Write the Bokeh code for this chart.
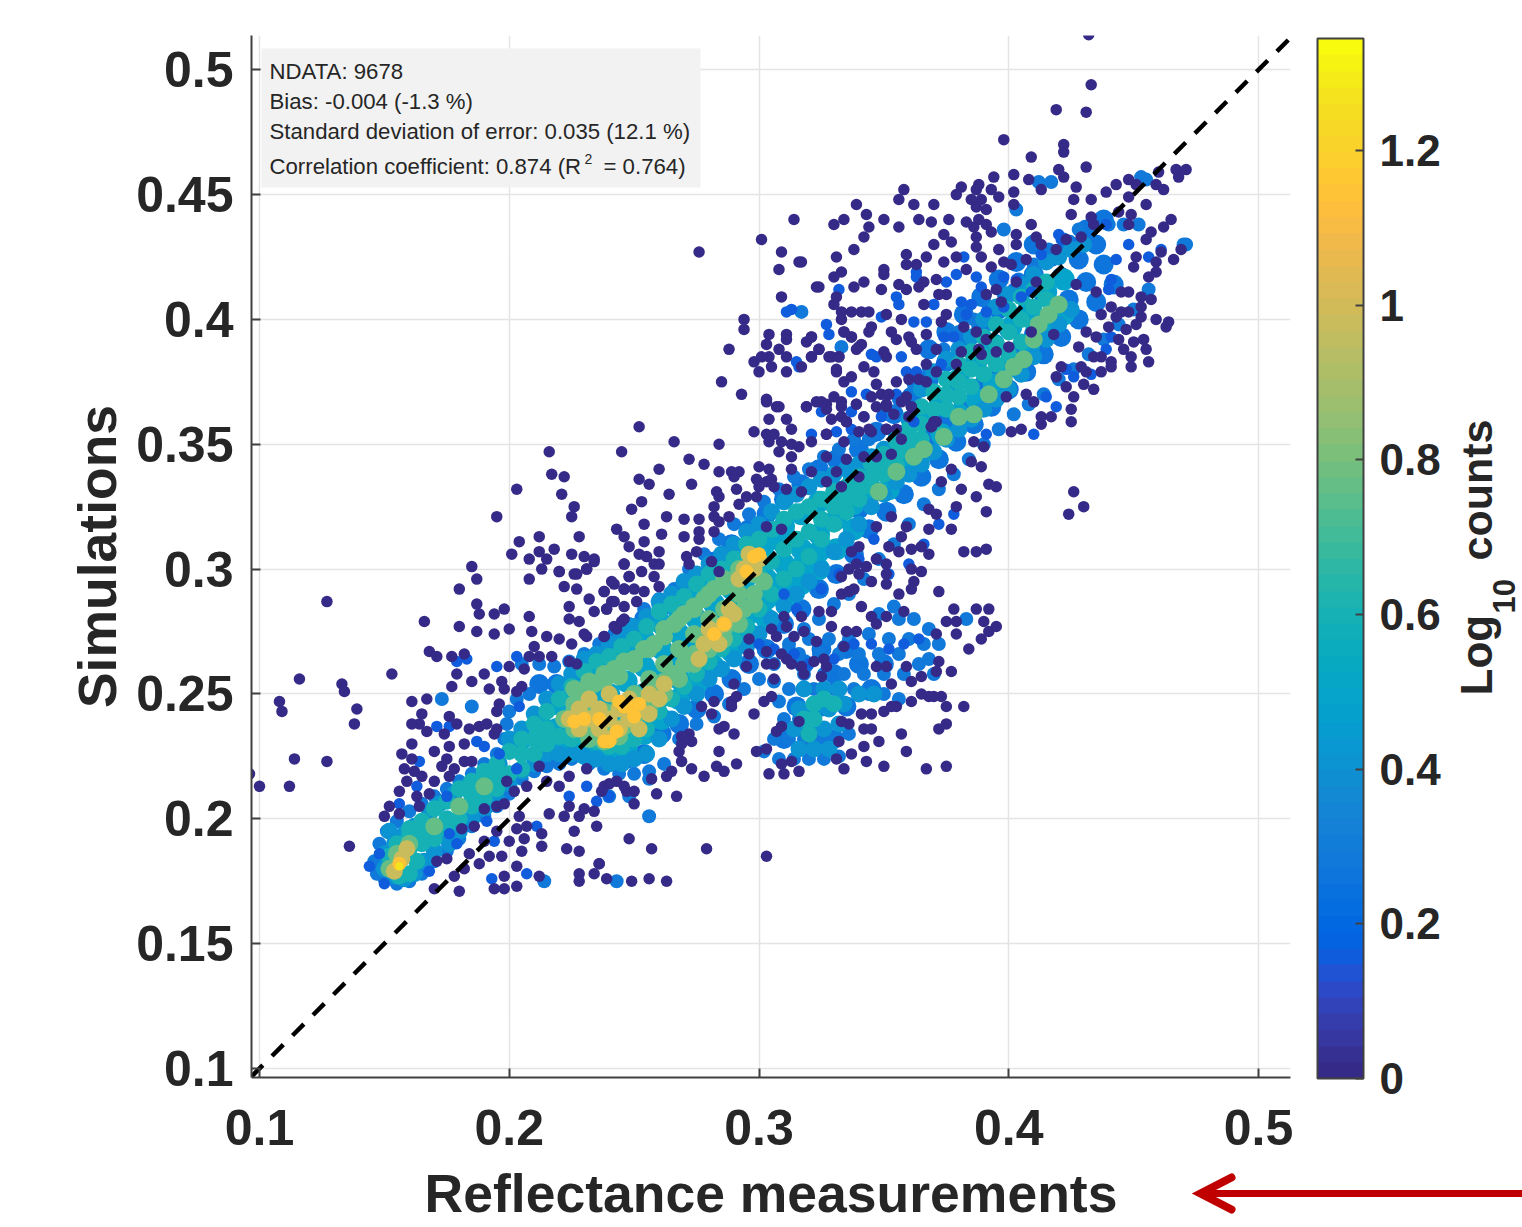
import numpy as np
from bokeh.embed import file_html
from bokeh.resources import INLINE
from bokeh.layouts import column
from bokeh.plotting import figure
from bokeh.core.properties import value
from bokeh.models import ColumnDataSource, LinearColorMapper, ColorBar, FixedTicker, Label, BoxAnnotation

# all pairs: reflectance*1000, simulation*1000
counts_0 = [127,287,96,218,100,213,112,213,114,224,127,223,108,247,109,243,116,256,133,254,134,251,139,244,138,238,153,258,136,189,
166,279,180,292,180,277,185,301,187,296,187,286,188,282,194,282,198,284,187,275,194,274,200,276,208,281,208,296,213,300,220,299,226,298,231,300,222,293,227,292,232,288,224,285,224,280,228,279,234,283,239,284,209,275,215,273,220,272,225,270,230,274,210,269,
168,267,171,265,177,265,182,266,179,258,177,253,185,255,190,258,192,252,197,255,198,252,161,247,167,248,165,242,161,238,164,238,167,235,176,241,179,238,174,234,184,236,188,237,191,238,195,236,194,234,161,230,157,226,161,224,170,227,176,229,182,230,173,221,175,224,182,223,158,220,162,219,159,215,165,217,170,215,176,217,178,220,185,223,156,211,163,209,168,210,164,205,152,205,150,201,156,202,
216,202,222,201,228,201,235,197,226,195,248,192,223,188,228,187,236,182,228,178,234,178,228,175,239,176,249,175,213,189,205,187,197,185,203,181,212,177,198,177,203,173,194,172,198,172,180,171,170,172,175,184,171,183,178,177,182,180,188,182,192,185,184,186,190,191,186,197,181,196,190,204,195,205,198,206,204,201,195,195,203,196,207,197,213,194,200,191,206,192,207,213,212,221,215,215,220,213,224,217,231,220,238,213,243,215,247,211,250,206,224,205,230,204,234,203,199,215,202,211,
195,243,196,246,205,253,203,251,200,261,206,260,208,265,212,265,217,265,224,263,227,262,231,273,238,273,243,276,246,280,248,297,246,302,234,303,242,294,246,292,238,291,241,287,
252,357,245,347,266,351,284,350,272,344,278,342,260,340,284,339,289,339,292,339,290,337,252,336,256,334,273,334,264,330,283,331,284,329,253,327,249,324,282,325,282,321,263,321,270,320,276,320,254,318,243,316,246,313,261,314,270,313,276,315,276,312,282,315,254,311,248,309,260,307,252,306,255,305,246,302,258,302,260,302,253,299,248,297,258,297,241,295,246,292,250,292,254,291,260,293,238,291,242,287,251,287,246,285,239,284,245,279,242,277,238,273,
271,305,275,307,272,302,281,303,284,299,298,355,303,354,306,354,304,351,309,351,313,356,308,347,313,350,316,349,321,351,304,360,311,360,303,367,307,365,319,365,327,366,339,366,333,367,329,360,335,359,342,361,351,365,361,365,354,362,360,361,369,357,370,359,340,355,345,355,351,356,357,352,327,354,334,351,327,345,335,344,342,345,347,345,353,346,313,345,300,341,304,340,313,340,321,339,331,339,340,337,299,336,303,335,305,336,300,333,306,333,311,332,327,335,333,333,291,332,295,329,299,329,292,326,317,331,
288,321,284,319,303,317,309,316,347,317,353,321,387,329,391,323,379,325,390,349,386,351,381,332,392,334,395,333,377,340,385,343,389,341,373,335,368,324,371,322,377,316,368,316,359,317,382,307,387,307,391,308,
365,309,368,306,357,313,352,309,361,308,356,307,347,304,351,302,361,300,365,299,351,298,351,294,362,295,361,292,356,290,372,291,339,302,343,301,336,300,333,297,340,298,345,295,338,292,333,290,336,291,340,309,337,307,
378,284,387,284,392,284,375,279,379,279,390,279,379,274,392,275,395,277,389,272,384,268,377,259,382,245,372,236,375,238,375,245,373,249,371,259,372,263,370,249,357,234,359,227,348,231,350,221,367,220,375,221,343,223,342,229,337,226,334,220,331,224,353,254,361,255,365,257,359,261,351,261,347,261,365,250,368,249,361,247,355,245,350,243,345,242,341,242,353,245,
371,274,358,283,351,281,345,281,341,285,329,283,324,283,317,281,310,281,347,278,339,275,335,275,329,277,323,271,318,275,311,277,305,276,307,273,314,273,334,269,326,264,322,263,317,261,311,264,309,266,303,267,296,272,296,266,303,262,306,262,313,262,295,261,306,256,325,257,327,261,318,258,290,254,277,245,282,247,289,247,289,245,291,249,298,242,302,247,305,249,281,242,290,234,286,237,284,236,307,235,309,237,316,239,284,227,291,222,283,221,286,219,299,227,303,228,304,218,310,218,313,223,316,219,309,222,333,239,336,238,342,236,332,231,345,236,
272,234,269,233,273,231,269,230,268,227,269,223,265,219,263,217,257,216,278,217,273,220,246,213,240,214,237,211,259,210,267,209,250,211,
419,484,431,483,398,472,422,470,422,467,409,465,431,461,420,460,422,457,408,456,402,458,394,457,388,454,381,453,387,452,413,452,427,453,402,451,393,452,396,449,379,450,358,452,356,448,362,446,370,446,339,446,343,442,334,440,330,438,350,440,344,437,356,437,364,440,369,439,376,440,342,433,338,428,331,425,317,423,359,426,359,422,350,420,350,418,333,419,330,417,342,415,323,413,324,413,338,413,349,412,356,414,359,412,364,413,366,415,330,406,331,409,333,403,333,400,337,403,341,403,344,403,351,402,357,400,366,406,334,395,337,393,344,395,345,397,353,395,355,392,360,393,367,394,321,393,319,391,324,388,321,385,329,385,332,385,340,389,317,381,331,380,342,381,337,377,334,375,346,379,347,374,355,375,351,385,350,387,361,391,371,388,363,388,367,382,371,379,360,376,364,376,367,375,330,369,323,367,319,365,325,367,327,364,333,365,333,361,339,366,345,369,349,370,352,370,347,365,359,369,361,365,357,367,351,366,351,356,344,356,335,359,327,354,355,356,369,357,371,359,
374,434,377,431,370,430,387,433,391,438,383,439,386,437,388,440,387,445,391,444,389,448,385,448,402,446,393,435,387,429,396,428,403,430,403,434,409,438,411,433,413,430,419,428,423,432,429,433,433,441,434,438,425,442,426,448,433,448,439,451,443,454,448,456,448,449,451,454,455,446,459,454,462,452,460,459,467,460,471,460,468,457,444,443,449,442,448,438,465,440,462,437,457,435,455,432,469,428,466,424,461,427,459,423,459,419,456,417,451,425,450,421,445,411,448,411,457,408,453,409,464,399,463,397,459,400,453,405,453,401,448,403,445,403,441,405,437,402,443,401,451,398,440,397,447,396,444,392,454,392,450,391,455,388,446,388,449,385,456,383,449,381,441,383,437,385,434,385,441,381,437,379,429,381,431,379,421,381,419,377,423,373,434,372,430,374,426,369,425,364,425,359,417,361,413,361,413,358,410,367,407,370,405,356,401,355,399,369,427,414,435,411,411,415,403,415,395,412,391,410,397,407,407,424,401,422,398,423,393,421,389,425,383,420,379,425,374,423,371,416,363,422,367,425,375,410,372,410,375,402,373,399,382,397,387,395,391,392,388,388,381,387,395,387,400,389,418,394,431,395,428,389,389,386,435,393,379,382,409,395,
432,514,433,494,426,331,430,325,424,322,303,185,279,188,263,175,256,176,257,188,236,182,
216,347,217,338,222,337,203,332,221,330,226,325,225,321,195,321,228,313,212,313,204,311,201,306,208,304,212,307,215,304,218,308,225,306,230,305,234,304,231,300,227,298,220,299,
276,427,301,432,314,440,309,427,316,423,308,420,309,409,294,400,294,396,288,388,304,394,311,394,311,392,303,390,308,388,311,385,298,383,301,385,304,385,305,381,300,379,311,379,285,375,293,370,303,368,308,365,321,393,324,388,321,385,328,385,332,385,331,379,334,395,337,393,341,390,339,388]
counts_016 = [179,263,183,264,195,261,203,265,187,231,190,229,164,223,175,209,163,213,156,206,148,186,144,181,150,174,171,237,176,237,204,245,196,226,203,220,231,213,240,209,224,209,235,207,211,197,191,199,176,194,179,190,194,191,168,179,207,178,193,176,
300,270,306,268,314,266,320,262,330,264,338,270,345,270,352,268,358,270,364,272,310,290,315,284,325,292,332,298,340,304,346,312,352,298,360,302,366,310,372,318,378,322,
363,419,363,417,382,425,379,418,375,415,387,417,389,413,398,417,403,416,413,426,355,409,356,406,370,406,381,407,385,406,391,403,398,405,405,409,409,411,349,401,362,399,367,399,374,393,378,393,383,402,345,386,347,385,357,385,359,379,363,379,373,382,337,371,343,370,355,370,337,363,342,361,349,361,321,354,331,355,337,356,362,359,325,363,441,416,440,412,456,425,461,428,448,430,443,424,439,438,420,434,421,432,441,393,439,388,426,377,423,380,433,378,415,369,419,365,410,354,391,354,
327,398,328,394,315,383,316,381,332,412,311,403,313,404]
fill_030 = [340,348,347,355,354,362,361,369,368,376,375,383,382,390,389,397,396,404,403,411,410,418,417,425,424,430,431,436,438,440,
344,340,351,347,358,354,365,361,372,368,379,375,386,382,393,389,400,396,407,403,414,410,421,417,428,424,435,430,
340,324,347,331,354,338,361,345,368,352,375,359,382,366,389,373,396,380,403,387,410,394,417,401,424,408,431,415,438,422,
344,316,351,323,358,330,365,337,372,344,379,351,386,358,393,365,400,372,407,379,414,386,421,393,428,400,435,407,442,414,
368,388,375,395,382,402,389,409,396,416,403,423,410,430,
212,254,219,254,226,258,233,264,240,268,247,274,254,280,261,285,268,291,275,297,282,303,289,310,296,316,303,322,310,328,317,334,324,340,331,344,
212,224,219,226,226,228,233,226,240,224,247,224,254,226,261,234,268,238,275,244,282,250,289,256,296,262,303,268,310,278,317,284,324,292,331,298,338,306,
310,232,320,232,330,232,315,245,325,245,335,245,345,252,330,258,340,262,350,262,318,262,325,268,335,268]
counts_028 = [173,248,185,245,354,285,455,456,470,430,317,403,412,455,256,201,214,175,243,175,417,455,453,457,398,436,403,444,471,430,383,280,345,353,333,389,
147,178,150,176,155,174,160,175,146,183,148,190,151,195,155,199,160,203,165,206,170,209,175,212,180,215,185,218,190,222,195,226,198,232,199,238,200,243,203,248,208,250,
165,178,170,183,175,187,180,192,185,197,190,201,195,205,200,210,205,216,210,219,215,221,220,222,225,224,232,222,238,220,244,218,250,218,256,219,
205,262,212,262,218,261,224,263,230,266,236,270,242,274,248,278,254,284,260,288,266,292,272,300,278,306,284,312,290,318,296,322,302,327,308,332,314,337,320,340,326,345,332,348,338,352,344,352,350,362,356,368,362,374,368,380,374,388,380,395,386,400,392,405,398,410,404,416,410,422,416,428,422,432,428,436,434,438,440,438,446,438,452,438,
240,209,248,209,256,216,262,222,268,232,275,238,282,241,288,246,294,252,300,256,306,262,312,270,318,276,324,280,330,286,336,290,342,296,348,304,354,310,360,318,366,326,372,332,378,338,384,344,390,350,396,356,402,362,408,366,414,370,420,376,426,380,432,386,438,392,444,398,450,404,456,412,
302,227,308,224,314,224,320,224,326,224,332,225,306,232,312,232,318,232,324,232,330,232,336,234,310,240,316,240,308,247,322,252,330,252,338,252,344,250,350,250,356,248,312,252,306,255,318,258,326,258,334,258,342,258,350,258,358,258,316,266,324,266,332,266,340,266,348,266,356,266,364,262,366,270,360,272,352,272,344,274,336,272,328,272,320,272,312,268,362,280,356,280,348,282,368,276,372,270,368,264,370,258]
counts_042 = [150,180,154,177,158,176,162,178,150,186,154,190,158,194,162,197,166,183,170,187,172,194,176,190,180,195,185,200,190,204,195,208,168,202,172,206,178,210,184,214,190,218,196,222,152,195,
200,232,205,236,210,242,215,248,220,254,225,258,230,264,235,266,240,270,245,274,250,277,255,281,260,287,265,290,270,295,275,298,280,302,285,306,290,310,295,315,300,318,305,323,310,327,315,330,320,333,325,336,330,338,335,340,340,342,345,345,350,348,355,353,360,360,365,372,370,379,375,384,380,388,385,393,390,400,395,405,400,410,405,414,410,418,415,423,420,425,425,428,430,430,
200,214,205,219,210,222,215,226,220,226,225,226,230,225,235,224,240,222,245,222,250,224,255,226,260,232,265,240,270,245,275,250,280,256,285,260,290,264,295,269,300,274,305,280,310,285,315,290,320,295,325,300,330,307,335,312,340,318,345,325,350,330,355,335,360,338,365,342,370,347,375,352,380,356,385,360,390,364,395,368,400,372,405,378,410,385,415,392,420,398,425,404,
316,228,322,228,328,228,314,236,320,236,326,236,332,238,316,244,322,244,328,244,334,246,340,250,346,250,318,252,326,252,332,252]
fill_050 = [205,232,212,240,219,246,226,252,233,258,240,261,247,266,254,272,261,278,268,283,275,289,282,295,289,300,296,306,303,311,310,317,317,322,324,327,331,331,338,337,345,343,
212,232,219,236,226,240,233,240,240,240,247,244,254,250,261,258,268,265,275,271,282,278,289,284,296,290,303,296,310,302,317,308,324,314,331,320,338,326,345,332,
219,228,226,230,233,228,240,228,247,228,254,234,261,240,268,248,275,254,282,261,289,267,296,274,303,280,310,288,317,294,324,300,331,308,338,316,
226,246,233,250,240,250,247,255,254,261,261,268,268,274,275,280,282,286,289,292,296,298,303,304,310,310,
233,234,240,234,247,236,254,242,261,249,268,256,275,262,282,269,289,276,296,282,303,288,310,295,317,301,324,307,
352,345,359,352,366,360,373,368,380,376,387,383,394,390,401,397,408,404,415,411,422,416,352,332,359,340,366,347,373,354,380,362,387,368,394,374,401,381,408,389,415,396,422,402]
counts_060 = [153,180,156,177,160,178,163,183,152,185,155,190,160,193,
160,196,165,199,170,204,175,207,180,212,185,215,190,219,195,222,200,227,205,232,210,238,215,243,220,248,225,253,230,259,235,263,240,265,245,269,250,272,255,277,260,283,265,286,270,289,275,294,280,298,285,300,290,304,295,310,300,312,305,316,310,320,315,323,320,325,325,328,330,331,335,333,340,337,345,342,350,346,355,351,360,356,365,365,370,371,375,376,380,382,385,387,390,393,395,398,400,404,405,409,410,412,415,415,
160,188,165,190,170,192,175,196,180,200,185,205,190,208,195,212,200,218,205,220,210,226,215,230,220,233,225,232,230,233,235,231,240,229,245,229,250,232,255,236,260,243,265,248,270,253,275,258,280,263,285,268,290,272,295,277,300,284,305,290,310,296,315,300,320,305,325,312,330,318,335,323,340,328,345,333,350,338,355,342,360,347,365,352,370,358,375,364,380,369,385,373,390,378,395,382,400,386,405,391,410,397,415,401,
300,298,305,303,310,308,315,312,320,315,325,320,330,325,335,328,340,332,345,337,350,342,355,346,360,351,365,358,370,364,375,370,380,375,385,380,390,385,395,390,400,395,405,400,410,405,415,408,205,226,210,232,215,236,
320,234,318,240,322,246,326,248,330,246,322,240,165,193,175,200,185,209,195,216]
counts_075 = [222,240,226,246,230,250,234,254,238,258,242,260,246,263,250,264,254,268,258,270,262,276,266,278,270,282,274,285,278,288,282,292,286,293,290,296,294,300,298,305,
226,236,230,238,234,238,238,237,242,236,246,237,250,240,254,244,258,250,262,255,266,258,270,262,274,266,278,270,282,274,286,276,290,280,294,284,298,290,302,295,
226,243,232,243,238,243,244,245,250,250,256,256,262,262,268,268,274,274,280,280,286,284,292,290,298,298,
226,252,232,255,238,255,244,257,250,262,256,268,262,273,268,280,274,284,280,290,286,296,292,300,
232,232,238,231,244,233,250,238,256,244,262,250,268,256,274,262,280,268,286,272,292,278,298,286,
170,197,180,205,190,213,152,180,155,186,160,190,
348,331,355,339,362,345,366,348,374,353,380,361,386,362,392,370,398,376,402,381,406,384,412,398,416,402,420,406,410,392]
counts_095 = [224,240,228,236,228,244,232,240,232,248,236,236,236,244,240,232,240,240,240,250,244,236,244,244,248,240,248,248,252,236,252,244,256,242,256,250,260,248,262,254,278,270,282,274,286,278,290,282,280,276,284,270,294,300,296,306,298,300,300,304,292,296,157,184,159,188,154,179,276,264,288,284]
counts_115 = [226,239,238,231,246,245,250,241,243,235,248,245,240,231,252,246,244,247,230,240,236,240,286,278,282,274,298,305,300,306,295,299,156,182]
counts_130 = [156,181]
diagonal = [0.0968, 0.5128]
x_ticks = [0.1, 0.2, 0.3, 0.4, 0.5]
y_ticks = [0.1, 0.15, 0.2, 0.25, 0.3, 0.35, 0.4, 0.45, 0.5]
y_labels = ["0.1", "0.15", "0.2", "0.25", "0.3", "0.35", "0.4", "0.45", "0.5"]
cbar_ticks = [0, 0.2, 0.4, 0.6, 0.8, 1, 1.2]
stats = ["NDATA: 9678", "Bias: -0.004 (-1.3 %)", "Standard deviation of error: 0.035 (12.1 %)"]

parula = [(0.2081,0.1663,0.5292),(0.2116,0.1898,0.5777),(0.2123,0.2138,0.6270),(0.2081,0.2386,0.6771),(0.1959,0.2645,0.7279),(0.1707,0.2919,0.7792),(0.1253,0.3242,0.8303),(0.0591,0.3598,0.8683),(0.0117,0.3875,0.8820),(0.0060,0.4086,0.8828),(0.0165,0.4266,0.8786),(0.0329,0.4430,0.8720),(0.0498,0.4586,0.8641),(0.0629,0.4737,0.8554),(0.0723,0.4887,0.8467),(0.0779,0.5040,0.8384),(0.0793,0.5200,0.8312),(0.0749,0.5375,0.8263),(0.0641,0.5570,0.8240),(0.0488,0.5772,0.8228),(0.0343,0.5966,0.8199),(0.0265,0.6137,0.8135),(0.0239,0.6287,0.8038),(0.0231,0.6418,0.7913),(0.0228,0.6535,0.7768),(0.0267,0.6642,0.7607),(0.0384,0.6743,0.7436),(0.0590,0.6838,0.7254),(0.0843,0.6928,0.7062),(0.1133,0.7015,0.6859),(0.1453,0.7098,0.6646),(0.1801,0.7177,0.6424),(0.2178,0.7250,0.6193),(0.2586,0.7317,0.5954),(0.3022,0.7376,0.5712),(0.3482,0.7424,0.5473),(0.3953,0.7459,0.5244),(0.4420,0.7481,0.5033),(0.4871,0.7491,0.4840),(0.5300,0.7491,0.4661),(0.5709,0.7485,0.4494),(0.6099,0.7473,0.4337),(0.6473,0.7456,0.4188),(0.6834,0.7435,0.4044),(0.7184,0.7411,0.3905),(0.7525,0.7384,0.3768),(0.7858,0.7356,0.3633),(0.8185,0.7327,0.3498),(0.8507,0.7299,0.3360),(0.8824,0.7274,0.3217),(0.9139,0.7258,0.3063),(0.9450,0.7261,0.2886),(0.9739,0.7314,0.2666),(0.9938,0.7455,0.2403),(0.9990,0.7653,0.2164),(0.9955,0.7861,0.1967),(0.9880,0.8066,0.1794),(0.9789,0.8271,0.1633),(0.9697,0.8481,0.1475),(0.9626,0.8705,0.1309),(0.9589,0.8949,0.1132),(0.9598,0.9218,0.0948),(0.9661,0.9514,0.0755),(0.9763,0.9831,0.0538)]
palette = ["#%02x%02x%02x" % tuple(int(round(c * 255)) for c in rgb) for rgb in parula]

TEXT = "#262626"
AXIS = "#404040"
FONT = "Liberation Sans"
LEFT, RIGHT, TOP, BOTTOM = 251, 1290, 35, 1077
XMIN, XMAX = 0.0968, 0.5128
YMIN, YMAX = 0.0964, 0.5137
W, H = 1522, 1226

p = figure(width=W, height=H, x_range=(XMIN, XMAX), y_range=(YMIN, YMAX),
           output_backend="svg", toolbar_location=None, frame_align=False,
           min_border_left=LEFT, min_border_right=W - RIGHT, min_border_top=TOP,
           min_border_bottom=H - BOTTOM, outline_line_color=None)

def px(v):
    return XMIN + (v - LEFT) * (XMAX - XMIN) / (RIGHT - LEFT)

def py(v):
    return YMIN + (BOTTOM - v) * (YMAX - YMIN) / (BOTTOM - TOP)

mapper = LinearColorMapper(palette=palette, low=0, high=1.345)

levels = [(fill_030, 0.27, 20), (counts_028, 0.28, 14), (fill_050, 0.5, 22), (counts_042, 0.42, 17), (counts_060, 0.6, 17),
          (counts_075, 0.76, 18), (counts_095, 0.97, 17), (counts_115, 1.15, 14), (counts_130, 1.28, 8),
          (counts_016, 0.15, 11.5), (counts_0, 0.0, 11.5)]
for pairs, level, size in levels:
    xy = np.array(pairs, dtype=float).reshape(-1, 2) / 1000
    src = ColumnDataSource(dict(x=xy[:, 0], y=xy[:, 1], c=[level] * len(xy)))
    p.scatter("x", "y", source=src, size=size, line_color=None,
              fill_color={"field": "c", "transform": mapper})

p.line(diagonal, diagonal, line_color="black", line_width=4.5, line_dash="16 13")

# axes
p.xaxis.ticker = FixedTicker(ticks=x_ticks)
p.yaxis.ticker = FixedTicker(ticks=y_ticks)
p.xaxis.major_label_overrides = {t: str(t) for t in x_ticks}
p.yaxis.major_label_overrides = dict(zip(y_ticks, y_labels))
p.xaxis.axis_label = "Reflectance measurements"
p.yaxis.axis_label = "Simulations"
for ax in (p.xaxis[0], p.yaxis[0]):
    ax.axis_line_color = AXIS
    ax.axis_line_width = 2
    ax.major_tick_line_color = AXIS
    ax.major_tick_line_width = 2
    ax.major_tick_in = 9
    ax.major_tick_out = 0
    ax.minor_tick_line_color = None
    ax.major_label_text_font = FONT
    ax.major_label_text_font_style = "bold"
    ax.major_label_text_font_size = "50px"
    ax.major_label_text_color = TEXT
    ax.axis_label_text_font = FONT
    ax.axis_label_text_font_style = "bold"
    ax.axis_label_text_font_size = "53.5px"
    ax.axis_label_text_color = TEXT
p.xaxis.major_label_standoff = 32
p.xaxis.axis_label_standoff = 16
p.yaxis.major_label_standoff = 18
p.yaxis.axis_label_standoff = 6
p.xgrid.ticker = FixedTicker(ticks=x_ticks)
p.ygrid.ticker = FixedTicker(ticks=y_ticks)
p.grid.grid_line_color = "#e4e4e4"
p.grid.grid_line_width = 1.5

# colour bar
cb = ColorBar(color_mapper=mapper, ticker=FixedTicker(ticks=cbar_ticks),
              major_label_overrides={t: str(t) for t in cbar_ticks},
              width=46, height=1040, padding=0, margin=28, location=(27, -1),
              bar_line_color=AXIS, bar_line_width=2,
              major_tick_line_color=AXIS, major_tick_line_width=2,
              major_tick_in=8, major_tick_out=0, minor_tick_line_color=None,
              label_standoff=16, major_label_text_font=FONT,
              major_label_text_font_style="bold", major_label_text_font_size="44px",
              major_label_text_color=TEXT)
p.add_layout(cb, "right")

# statistics box
p.add_layout(BoxAnnotation(left=px(261), right=px(700), top=py(48), bottom=py(187),
                           fill_color="#f2f2f2", fill_alpha=1, line_color=None))
for text, yp in zip(stats, [71, 101, 131]):
    p.add_layout(Label(x=px(269), y=py(yp), text=text, text_font=FONT, text_font_size="22.2px", text_color=TEXT,
                       text_baseline="middle"))
for text, xp, yp, size in [("Correlation coefficient: 0.874 (R", 269, 166, "22.2px"), ("2", 584, 158, "14px"), ("= 0.764)", 603, 166, "22.2px")]:
    p.add_layout(Label(x=px(xp), y=py(yp), text=text, text_font=FONT, text_font_size=size, text_color=TEXT,
                       text_baseline="middle"))

# page-wide transparent layer for what lies outside the plot frame: colour bar title and red arrow
overlay = figure(width=W, height=H, x_range=(0, W), y_range=(H, 0), output_backend="svg", toolbar_location=None,
                 x_axis_type=None, y_axis_type=None, min_border=0, outline_line_color=None, frame_align=False,
                 background_fill_color=None, border_fill_color=None)
overlay.grid.visible = False
overlay.styles = {"position": "absolute", "left": "0px", "top": "0px", "pointer-events": "none"}
for text, xp, yp, size in [("Log", 1476, 695, "44px"), ("10", 1503, 613, "31px"), ("counts", 1476, 560, "43px")]:
    overlay.text([xp], [yp], text=[text], angle=np.pi / 2, text_font=value(FONT), text_font_style="bold",
                 text_font_size=value(size), text_color=TEXT, text_align="left", text_baseline="alphabetic")
overlay.line([1206, 1522], [1193, 1193], line_color="#c00000", line_width=7)
overlay.line([1231, 1200, 1231], [1177, 1193, 1209], line_color="#c00000", line_width=8, line_cap="round", line_join="miter")

open("out.html", "w").write(file_html(column(p, overlay), INLINE))
